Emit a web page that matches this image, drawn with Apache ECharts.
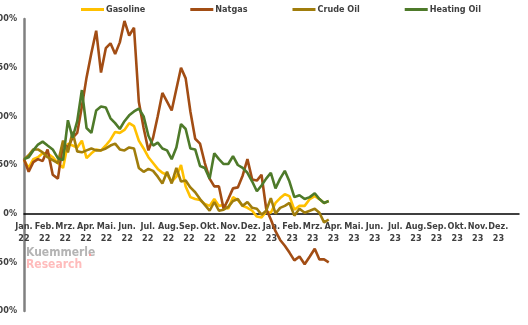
<!DOCTYPE html>
<html>
<head>
<meta charset="utf-8">
<script src="https://cdn.jsdelivr.net/npm/echarts@6/dist/echarts.min.js"></script>
<style>
  html, body { margin: 0; padding: 0; background: #fff; }
  #chart { width: 528px; height: 325px; }
</style>
</head>
<body>
<div id="chart"></div>
<script>
// Weekly year-over-year change (%) of energy prices, Jan 2022 - Mar 2023
const firstWeek = '2022-01-01';
const monthNames = ['Jan.', 'Feb.', 'Mrz.', 'Apr.', 'Mai.', 'Jun.', 'Jul.', 'Aug.', 'Sep.', 'Okt.', 'Nov.', 'Dez.'];
const yearLabels = ['22', '23'];
const seriesNames = ['Gasoline', 'Natgas', 'Crude Oil', 'Heating Oil'];

const gasoline = [55, 47, 56, 58, 62, 62, 58, 52, 47, 72, 70, 68, 75, 57, 62, 66, 65, 70, 76, 84,
  83, 86, 93, 90, 75, 67, 58, 52, 46, 42, 40, 33, 38, 50, 28, 17, 15, 14, 10, 8,
  15, 8, 9, 5, 17, 14, 8, 6, 3, -3, -4, 2, 1, 11, 16, 20, 18, 4, 8, 8,
  15, 18, 15, 11, 13];
const natgas = [56, 43, 53, 56, 54, 66, 40, 36, 72, 68, 78, 83, 110, 140, 165, 188, 145, 170, 175, 164,
  176, 198, 183, 191, 115, 88, 65, 78, 100, 124, 115, 106, 128, 150, 139, 105, 77, 72, 52, 36,
  28, 28, 5, 15, 26, 27, 39, 56, 35, 34, 40, 5, -6, -18, -27, -33, -40, -48, -44, -52,
  -44, -36, -47, -47, -50];
const crudeOil = [56, 60, 66, 66, 63, 58, 55, 52, 75, 63, 84, 64, 63, 65, 67, 65, 65, 67, 70, 72,
  66, 65, 68, 67, 47, 43, 46, 44, 38, 31, 43, 31, 47, 33, 34, 27, 22, 15, 9, 3,
  12, 3, 4, 7, 13, 15, 8, 12, 6, 5, -1, 3, 16, 0, 6, 8, 11, -2, 5, 1,
  3, 5, 1, -9, -6];
const heatingOil = [56, 58, 65, 71, 74, 70, 66, 57, 55, 96, 78, 95, 127, 88, 83, 106, 110, 109, 98, 93,
  87, 95, 101, 105, 108, 100, 80, 70, 73, 67, 65, 56, 68, 92, 87, 67, 66, 49, 47, 36,
  62, 56, 51, 51, 59, 50, 47, 42, 33, 23, 29, 36, 42, 26, 36, 44, 33, 17, 19, 15,
  17, 21, 15, 11, 13];

const colors = ['#FFC000', '#A24D14', '#A07D0C', '#4E7A2A'];
const baseFont = '"Liberation Sans Narrow", "DejaVu Sans Condensed", "Liberation Sans", sans-serif';

const yMin = -100, yMax = 200;
const gridTop = 19, gridBottom = 14, chartHeight = 325;

// Position of a date on the month axis (0 = start of Jan 2022)
function monthPos(d) {
  const y = d.getUTCFullYear(), m = d.getUTCMonth();
  const days = new Date(Date.UTC(y, m + 1, 0)).getUTCDate();
  return (y - 2022) * 12 + m + (d.getUTCDate() - 1) / days;
}
function weekPositions(n) {
  const start = new Date(firstWeek + 'T00:00:00Z');
  const out = [];
  for (let i = 0; i < n; i++) out.push(monthPos(new Date(start.getTime() + i * 7 * 86400000)));
  return out;
}
function pairs(values) {
  const xs = weekPositions(values.length);
  return values.map((v, i) => [xs[i], v]);
}

// Lift the month axis from the bottom edge up to the 0% line
const plotH = chartHeight - gridTop - gridBottom;
const zeroLift = plotH * (0 - yMin) / (yMax - yMin);

const chart = echarts.init(document.getElementById('chart'), null, { renderer: 'canvas' });
chart.setOption({
  animation: false,
  textStyle: { fontFamily: baseFont },
  legend: {
    top: 0,
    left: 76,
    itemGap: 45,
    itemWidth: 23,
    itemHeight: 3,
    icon: 'rect',
    textStyle: { fontSize: 9, fontWeight: 'bold', color: '#404040', fontFamily: baseFont, padding: [0, 0, 0, -3] },
    data: seriesNames
  },
  grid: { left: 24, right: 9, top: gridTop, bottom: gridBottom, containLabel: false, outerBoundsMode: 'none' },
  xAxis: {
    type: 'value',
    min: 0,
    max: 24,
    interval: 1,
    position: 'bottom',
    offset: -zeroLift,
    axisLine: { onZero: false, lineStyle: { color: '#000', width: 1.5 } },
    axisTick: { show: false },
    splitLine: { show: false },
    axisLabel: {
      margin: 7,
      fontSize: 9,
      fontWeight: 'bold',
      color: '#404040',
      lineHeight: 12,
      fontFamily: baseFont,
      showMaxLabel: false,
      hideOverlap: false,
      formatter: function (v) {
        const i = Math.round(v);
        if (i >= 24) return '';
        return monthNames[i % 12] + '\n' + yearLabels[Math.floor(i / 12)];
      }
    }
  },
  yAxis: {
    type: 'value',
    min: yMin,
    max: yMax,
    interval: 50,
    axisLine: { show: true, onZero: false, lineStyle: { color: '#808080', width: 2.5 } },
    axisTick: { show: false },
    splitLine: { show: false },
    axisLabel: {
      margin: 7,
      fontSize: 9,
      fontWeight: 'bold',
      color: '#404040',
      fontFamily: baseFont,
      formatter: v => v + '%'
    }
  },
  graphic: [
    {
      type: 'text', left: 26, top: 247,
      style: { text: 'Kuemmerle', fill: '#b4b4b4', font: 'bold 12px ' + baseFont }
    },
    {
      type: 'text', left: 88, top: 247,
      style: { text: '.', fill: '#ff9a9a', font: 'bold 12px ' + baseFont }
    },
    {
      type: 'text', left: 26, top: 259,
      style: { text: 'Research', fill: '#ffbcbc', font: 'bold 12px ' + baseFont }
    }
  ],
  series: [gasoline, natgas, crudeOil, heatingOil].map((vals, k) => ({
    name: seriesNames[k],
    type: 'line',
    data: pairs(vals),
    showSymbol: false,
    symbol: 'none',
    lineStyle: { width: 2.6, color: colors[k] },
    itemStyle: { color: colors[k] },
    z: 2 + k
  }))
});
</script>
</body>
</html>
